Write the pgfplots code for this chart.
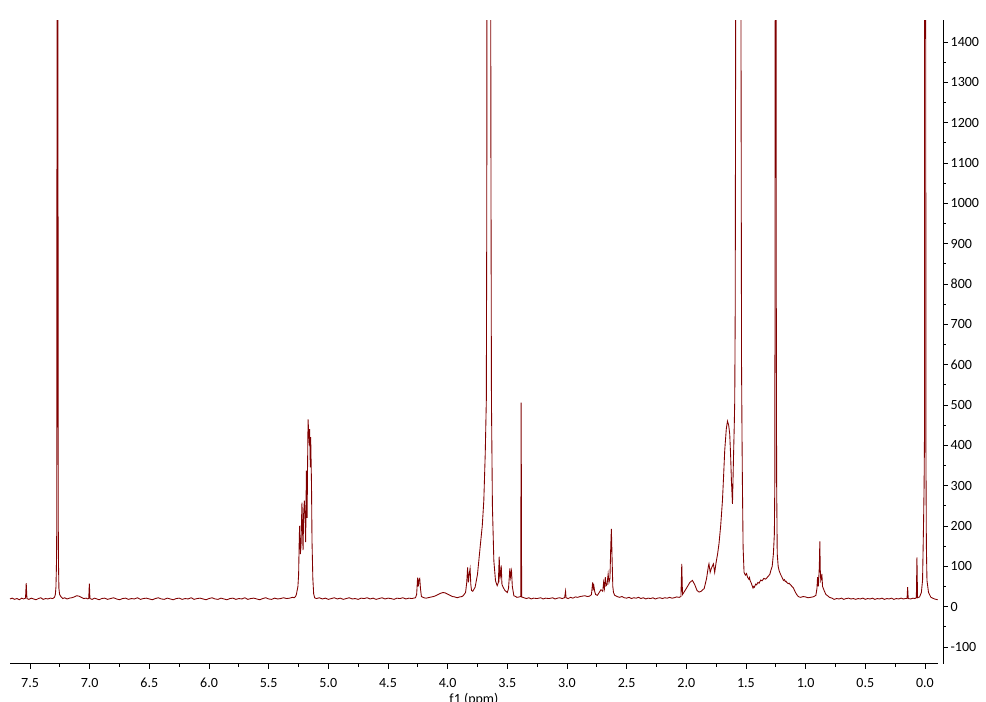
\documentclass[border=0pt]{standalone}
\usepackage{fontspec}
\setmainfont{Carlito}
\usepackage{pgfplots}
\pgfplotsset{compat=1.18}
\definecolor{nmr}{RGB}{128,0,0}
\begin{document}
\begin{tikzpicture}
\begin{axis}[
  at={(0,0)}, anchor=south west,
  scale only axis, width=695.25pt, height=482.25pt,
  x dir=reverse,
  xmin=-0.109, xmax=7.668, ymin=-141.5, ymax=1454.6,
  axis x line*=bottom, axis y line*=right,
  axis y line shift=3.75pt,
  axis line style={line width=0.6pt, black},
  xtick={0,0.5,1,1.5,2,2.5,3,3.5,4,4.5,5,5.5,6,6.5,7,7.5},
  xticklabels={0.0,0.5,1.0,1.5,2.0,2.5,3.0,3.5,4.0,4.5,5.0,5.5,6.0,6.5,7.0,7.5},
  ytick={-100,0,100,200,300,400,500,600,700,800,900,1000,1100,1200,1300,1400},
  yticklabels={-100,0,100,200,300,400,500,600,700,800,900,1000,1100,1200,1300,1400},
  minor x tick num=1, minor y tick num=1,
  tick align=outside,
  major tick length=3.75pt, minor tick length=2.25pt,
  tick style={line width=0.6pt, black},
  tick label style={font=\fontsize{10.5}{12}\selectfont},
  xticklabel style={yshift=-3.5pt},
  yticklabel style={xshift=-1.5pt},
  xlabel={f1 (ppm)},
  xlabel style={font=\fontsize{10.5}{12}\selectfont, yshift=3pt},
]
\addplot[color=nmr, line width=0.65pt] coordinates {
(7.668,19) (7.65,21) (7.63,18) (7.61,20) (7.59,17) (7.57,21) (7.555,19) (7.538,21) (7.532,58) (7.526,20)
(7.51,18) (7.49,21) (7.47,19) (7.45,17) (7.43,20) (7.41,22) (7.39,18) (7.37,20) (7.35,19) (7.33,21) (7.31,20)
(7.295,23) (7.288,30) (7.283,48) (7.279,97) (7.276,200) (7.274,1500) (7.272,4000) (7.268,4000)
(7.266,1500) (7.264,250) (7.262,114) (7.258,45) (7.252,30) (7.24,24) (7.225,20) (7.21,22)
(7.19,19) (7.17,21) (7.15,22) (7.13,24) (7.11,27) (7.09,26) (7.07,23) (7.05,20) (7.03,21)
(7.015,19) (7.008,21) (7.003,57) (6.998,20) (6.98,18) (6.96,21) (6.94,19) (6.92,17)
(6.90,20) (6.875,21) (6.85,18) (6.825,20) (6.80,22) (6.775,19) (6.75,17) (6.725,20)
(6.70,21) (6.675,18) (6.65,20) (6.625,19) (6.60,22) (6.575,18) (6.55,20) (6.525,21)
(6.50,19) (6.475,17) (6.45,20) (6.425,22) (6.40,19) (6.375,18) (6.35,21) (6.325,19)
(6.30,17) (6.275,20) (6.25,21) (6.225,18) (6.20,20) (6.175,19) (6.15,22) (6.125,18)
(6.10,20) (6.075,21) (6.05,19) (6.025,17) (6.00,20) (5.975,22) (5.95,19) (5.925,18)
(5.90,21) (5.875,19) (5.85,17) (5.825,20) (5.80,21) (5.775,18) (5.75,20) (5.725,19)
(5.70,22) (5.675,18) (5.65,20) (5.625,21) (5.60,19) (5.575,17) (5.55,20) (5.525,22)
(5.50,19) (5.475,18) (5.45,21) (5.425,19) (5.40,20) (5.375,22) (5.35,20) (5.325,21) (5.30,23)
(5.285,22) (5.275,25) (5.268,30) (5.255,50) (5.249,80) (5.245,150) (5.241,200) (5.235,130)
(5.229,150) (5.225,210) (5.221,258) (5.217,200) (5.212,140) (5.207,230) (5.201,263)
(5.196,230) (5.190,160) (5.186,280) (5.184,337) (5.180,300) (5.178,220) (5.174,350)
(5.170,464) (5.166,440) (5.162,432) (5.159,400) (5.157,440) (5.151,345) (5.148,420)
(5.146,387) (5.141,300) (5.137,164) (5.130,70) (5.123,32) (5.115,22) (5.10,20)
(5.075,22) (5.05,19) (5.025,21) (5.00,18) (4.975,20) (4.95,22) (4.925,19) (4.90,21)
(4.875,18) (4.85,20) (4.825,22) (4.80,19) (4.775,20) (4.75,18) (4.725,21) (4.70,20)
(4.675,22) (4.65,19) (4.625,21) (4.60,18) (4.575,20) (4.55,22) (4.525,19) (4.50,21)
(4.475,20) (4.45,18) (4.425,21) (4.40,20) (4.375,22) (4.35,19) (4.325,21) (4.30,20)
(4.27,22) (4.26,30) (4.252,72) (4.246,50) (4.240,68) (4.234,70) (4.228,45) (4.22,25)
(4.20,22) (4.18,21) (4.15,23) (4.12,25) (4.10,27) (4.08,30) (4.06,33) (4.04,35) (4.02,34)
(4.00,31) (3.98,28) (3.96,25) (3.94,24) (3.92,22) (3.90,24) (3.88,25) (3.87,27)
(3.85,35) (3.840,60) (3.833,97) (3.826,60) (3.820,80) (3.812,94)
(3.806,55) (3.800,40) (3.79,38) (3.77,48) (3.75,80) (3.725,156) (3.71,200) (3.697,263)
(3.685,380) (3.676,511) (3.672,1000) (3.668,4000) (3.645,4000) (3.638,1200) (3.633,511)
(3.625,250) (3.613,114) (3.599,64) (3.585,52) (3.575,60) (3.568,124) (3.562,70)
(3.556,80) (3.551,102) (3.545,55) (3.535,48) (3.52,40) (3.50,35) (3.490,45) (3.482,80)
(3.479,95) (3.474,73) (3.468,85) (3.465,89) (3.458,50) (3.445,27) (3.43,25) (3.42,23) (3.40,24)
(3.388,25) (3.384,506) (3.380,24) (3.36,22) (3.34,20) (3.32,22) (3.30,19) (3.28,21) (3.25,20) (3.22,22) (3.20,19)
(3.18,21) (3.15,20) (3.12,22) (3.10,19) (3.08,21) (3.06,22) (3.04,20) (3.02,22) (3.012,38) (3.008,22) (2.99,20)
(2.97,23) (2.95,21) (2.93,24) (2.91,23) (2.89,25) (2.87,26) (2.85,27) (2.83,25) (2.81,26) (2.795,30) (2.785,60) (2.780,45) (2.775,52)
(2.768,38) (2.76,30) (2.745,28) (2.73,35) (2.715,42) (2.700,38) (2.693,60) (2.686,45)
(2.679,73) (2.672,52) (2.664,55) (2.655,81) (2.648,60) (2.640,70) (2.633,150)
(2.628,193) (2.622,120) (2.616,50) (2.610,35) (2.60,28) (2.58,25) (2.56,23) (2.54,25) (2.52,22) (2.50,21)
(2.48,23) (2.46,20) (2.44,22) (2.42,21) (2.40,23) (2.38,20) (2.36,22) (2.34,19) (2.32,21) (2.30,20) (2.28,22)
(2.26,19) (2.24,21) (2.22,22) (2.20,20) (2.18,22) (2.16,21) (2.14,23) (2.12,21) (2.10,22) (2.08,24)
(2.06,23) (2.045,25) (2.038,106) (2.032,30) (2.025,33) (2.00,45) (1.97,60) (1.949,65)
(1.93,55) (1.910,40) (1.893,36) (1.875,38) (1.850,45) (1.830,70) (1.815,100)
(1.810,106) (1.800,85) (1.790,95) (1.773,106) (1.762,85) (1.750,110) (1.738,130)
(1.726,156) (1.712,200) (1.697,263) (1.688,320) (1.678,387) (1.665,440) (1.655,460)
(1.645,450) (1.636,428) (1.628,370) (1.622,313) (1.613,255) (1.605,362) (1.598,450)
(1.594,511) (1.590,740) (1.586,1500) (1.582,4000) (1.572,3000) (1.562,4000)
(1.548,4000) (1.542,1500) (1.537,600) (1.533,420) (1.530,313) (1.524,147) (1.516,85)
(1.505,78) (1.495,82) (1.487,73) (1.476,68) (1.470,72) (1.466,65) (1.455,58) (1.448,52) (1.441,46) (1.435,50) (1.430,48)
(1.418,56) (1.41,54) (1.40,60) (1.39,58) (1.376,66) (1.365,64) (1.35,70) (1.335,68) (1.320,73) (1.30,80) (1.292,89) (1.280,100)
(1.270,131) (1.262,180) (1.258,313) (1.255,1500) (1.252,4000) (1.249,4000)
(1.246,800) (1.243,313) (1.238,131) (1.230,100) (1.222,89) (1.21,80) (1.20,74)
(1.186,65) (1.178,67) (1.170,62) (1.164,63) (1.158,60) (1.150,58) (1.145,57) (1.138,58) (1.130,55) (1.122,53) (1.115,50) (1.102,46)
(1.085,35) (1.068,27) (1.055,24) (1.040,23) (1.02,25) (1.00,24) (0.98,22) (0.96,23) (0.94,24) (0.93,25) (0.914,28)
(0.905,45) (0.900,73) (0.893,50) (0.885,100) (0.881,162) (0.877,90) (0.873,65)
(0.868,70) (0.864,81) (0.858,50) (0.845,40) (0.830,30) (0.816,27) (0.80,23) (0.78,21)
(0.761,18) (0.74,20) (0.72,19) (0.70,21) (0.68,18) (0.66,20) (0.64,21) (0.62,19) (0.60,20) (0.58,18) (0.56,20)
(0.54,19) (0.52,21) (0.50,18) (0.48,20) (0.46,19) (0.44,21) (0.42,18) (0.40,20) (0.38,19) (0.36,21)
(0.34,18) (0.32,20) (0.30,19) (0.28,21) (0.26,18) (0.24,20) (0.22,19) (0.20,21) (0.18,19) (0.165,20)
(0.150,20) (0.145,48) (0.140,20) (0.12,19) (0.10,21) (0.085,20) (0.072,22) (0.067,122) (0.062,22)
(0.045,24) (0.030,35) (0.020,65) (0.012,200) (0.007,300) (0.004,420) (0.001,4000)
(-0.004,4000) (-0.008,400) (-0.012,150) (-0.017,65) (-0.030,35) (-0.050,23)
(-0.080,19) (-0.107,17)
};
\end{axis}
\pgfresetboundingbox
\path[use as bounding box] (-7.5pt,-28.5pt) rectangle (731.25pt,497.25pt);
\end{tikzpicture}
\end{document}
